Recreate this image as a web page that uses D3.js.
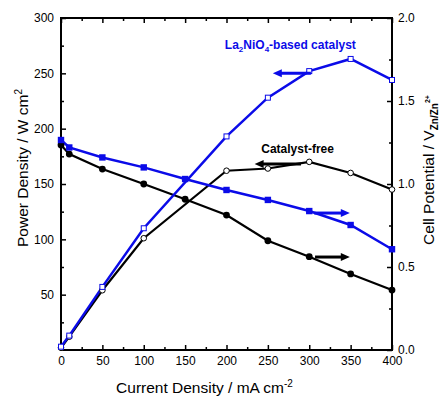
<!DOCTYPE html>
<html>
<head>
<meta charset="utf-8">
<script src="https://cdn.jsdelivr.net/npm/d3@7"></script>
<style>
  body { margin: 0; background: #fff; }
  text { font-family: 'Liberation Sans', Arial, sans-serif; }
</style>
</head>
<body>
<div id="chart"></div>
<script>
// current density (mA cm-2)
const powerX = [0, 10, 50, 100, 200, 250, 300, 350, 400];
const potX = [0, 10, 50, 100, 150, 200, 250, 300, 350, 400];

// power density (left axis)
const powerLa = [3, 13, 57, 110, 193, 228, 252, 263, 244];
const powerFree = [2, 12, 54, 101, 162, 164, 170, 160, 145];

// cell potential (right axis)
const potLa = [1.265, 1.22, 1.16, 1.10, 1.03, 0.964, 0.904, 0.837, 0.753, 0.607];
const potFree = [1.235, 1.18, 1.09, 1.00, 0.908, 0.813, 0.658, 0.562, 0.458, 0.361];

const xTicks = [0, 50, 100, 150, 200, 250, 300, 350, 400];
const xMinor = [25, 75, 125, 175, 225, 275, 325, 375];
const yLeftTicks = [50, 100, 150, 200, 250, 300];
const yLeftMinor = [25, 75, 125, 175, 225, 275];
const yRightTicks = [0, 0.5, 1.0, 1.5, 2.0];
const yRightMinor = [0.25, 0.75, 1.25, 1.75];

const W = 440, H = 398;
const margin = { top: 18, right: 48, bottom: 48, left: 61 };
const width = W - margin.left - margin.right;
const height = H - margin.top - margin.bottom;
const blue = '#0b0be8';

const svg = d3.select('#chart').append('svg')
  .attr('width', W)
  .attr('height', H)
  .append('g')
  .attr('transform', `translate(${margin.left},${margin.top})`);

const x = d3.scaleLinear().domain([0, 400]).range([0, width]);
const yL = d3.scaleLinear().domain([0, 300]).range([height, 0]);
const yR = d3.scaleLinear().domain([0, 2]).range([height, 0]);

// axes, ticks inward
function styleAxis(g) {
  g.select('.domain').remove();
  g.selectAll('.tick line').attr('stroke', '#000').attr('stroke-width', 1.5);
  g.selectAll('.tick text')
    .style('font-family', "'Liberation Sans', Arial, sans-serif")
    .style('font-size', '12px')
    .attr('fill', '#000');
}

svg.append('g').attr('transform', `translate(0,${height})`)
  .call(d3.axisBottom(x).tickValues(xTicks).tickSize(-5).tickPadding(6).tickFormat(d3.format('d')))
  .call(styleAxis);
svg.append('g').attr('transform', `translate(0,${height})`)
  .call(d3.axisBottom(x).tickValues(xMinor).tickSize(-3).tickFormat(''))
  .call(styleAxis);
svg.append('g')
  .call(d3.axisTop(x).tickValues(xTicks).tickSize(-5).tickFormat(''))
  .call(styleAxis);
svg.append('g')
  .call(d3.axisTop(x).tickValues(xMinor).tickSize(-3).tickFormat(''))
  .call(styleAxis);

svg.append('g')
  .call(d3.axisLeft(yL).tickValues(yLeftTicks).tickSize(-5).tickPadding(7).tickFormat(d3.format('d')))
  .call(styleAxis);
svg.append('g')
  .call(d3.axisLeft(yL).tickValues(yLeftMinor).tickSize(-3).tickFormat(''))
  .call(styleAxis);

svg.append('g').attr('transform', `translate(${width},0)`)
  .call(d3.axisRight(yR).tickValues(yRightTicks).tickSize(-5).tickPadding(6).tickFormat(d3.format('.1f')))
  .call(styleAxis);
svg.append('g').attr('transform', `translate(${width},0)`)
  .call(d3.axisRight(yR).tickValues(yRightMinor).tickSize(-3).tickFormat(''))
  .call(styleAxis);

svg.append('rect')
  .attr('width', width)
  .attr('height', height)
  .attr('fill', 'none')
  .attr('stroke', '#000')
  .attr('stroke-width', 2);

// lines
const powerLine = d3.line().x(d => x(d[0])).y(d => yL(d[1]));
const potLine = d3.line().x(d => x(d[0])).y(d => yR(d[1]));

const pFree = powerX.map((c, i) => [c, powerFree[i]]);
const pLa = powerX.map((c, i) => [c, powerLa[i]]);
const vFree = potX.map((c, i) => [c, potFree[i]]);
const vLa = potX.map((c, i) => [c, potLa[i]]);

svg.append('path').datum(pFree).attr('d', powerLine)
  .attr('fill', 'none').attr('stroke', '#000').attr('stroke-width', 2.2);
svg.append('path').datum(vFree).attr('d', potLine)
  .attr('fill', 'none').attr('stroke', '#000').attr('stroke-width', 2.2);
svg.append('path').datum(pLa).attr('d', powerLine)
  .attr('fill', 'none').attr('stroke', blue).attr('stroke-width', 2.5);
svg.append('path').datum(vLa).attr('d', potLine)
  .attr('fill', 'none').attr('stroke', blue).attr('stroke-width', 2.5);

// markers
svg.selectAll('.pf').data(pFree).enter().append('circle')
  .attr('cx', d => x(d[0])).attr('cy', d => yL(d[1])).attr('r', 2.8)
  .attr('fill', '#fff').attr('stroke', '#000').attr('stroke-width', 1);
svg.selectAll('.vf').data(vFree).enter().append('circle')
  .attr('cx', d => x(d[0])).attr('cy', d => yR(d[1])).attr('r', 3.4)
  .attr('fill', '#000');
svg.selectAll('.pl').data(pLa).enter().append('rect')
  .attr('x', d => x(d[0]) - 2.5).attr('y', d => yL(d[1]) - 2.5)
  .attr('width', 5).attr('height', 5)
  .attr('fill', '#fff').attr('stroke', blue).attr('stroke-width', 1);
svg.selectAll('.vl').data(vLa).enter().append('rect')
  .attr('x', d => x(d[0]) - 3.2).attr('y', d => yR(d[1]) - 3.2)
  .attr('width', 6.4).attr('height', 6.4)
  .attr('fill', blue);

// arrows
function arrow(x1, x2, yPix, color) {
  const dir = x2 > x1 ? 1 : -1;
  svg.append('line')
    .attr('x1', x1).attr('x2', x2 - dir * 6)
    .attr('y1', yPix).attr('y2', yPix)
    .attr('stroke', color).attr('stroke-width', 3);
  svg.append('path')
    .attr('d', `M${x2},${yPix} L${x2 - dir * 9},${yPix - 4} L${x2 - dir * 9},${yPix + 4} Z`)
    .attr('fill', color);
}
arrow(x(302), x(256), yL(250), blue);
arrow(x(290), x(234), yL(168), '#000');
arrow(x(306), x(349), yR(0.825), blue);
arrow(x(307), x(349), yR(0.56), '#000');

// annotations
const laLabel = svg.append('text')
  .attr('x', x(198)).attr('y', yL(272))
  .attr('fill', blue)
  .style('font-size', '12px').style('font-weight', 'bold');
laLabel.append('tspan').text('La');
laLabel.append('tspan').attr('dy', 3).style('font-size', '8px').text('2');
laLabel.append('tspan').attr('dy', -3).text('NiO');
laLabel.append('tspan').attr('dy', 3).style('font-size', '8px').text('4');
laLabel.append('tspan').attr('dy', -3).text('-based catalyst');

svg.append('text')
  .attr('x', x(242)).attr('y', yL(178))
  .attr('fill', '#000')
  .style('font-size', '12px').style('font-weight', 'bold')
  .text('Catalyst-free');

// axis titles
const xt = svg.append('text')
  .attr('x', width / 2 - 22).attr('y', height + 43)
  .attr('text-anchor', 'middle')
  .style('font-size', '15.5px');
xt.append('tspan').text('Current Density / mA cm');
xt.append('tspan').attr('dy', -6).style('font-size', '10px').text('-2');

const ylt = svg.append('text')
  .attr('transform', 'rotate(-90)')
  .attr('x', -height / 2 + 16).attr('y', -margin.left + 28)
  .attr('text-anchor', 'middle')
  .style('font-size', '15.5px');
ylt.append('tspan').text('Power Density / W cm');
ylt.append('tspan').attr('dy', -6).style('font-size', '10px').text('2');

const yrt = svg.append('text')
  .attr('transform', 'rotate(-90)')
  .attr('x', -height / 2 + 14).attr('y', width + 42)
  .attr('text-anchor', 'middle')
  .style('font-size', '15.5px');
yrt.append('tspan').text('Cell Potential / V');
yrt.append('tspan').attr('dy', 4).style('font-size', '10px').style('font-weight', 'bold').text('Zn/Zn');
yrt.append('tspan').attr('dy', -8).style('font-size', '7px').style('font-weight', 'bold').text('2+');
</script>
</body>
</html>
